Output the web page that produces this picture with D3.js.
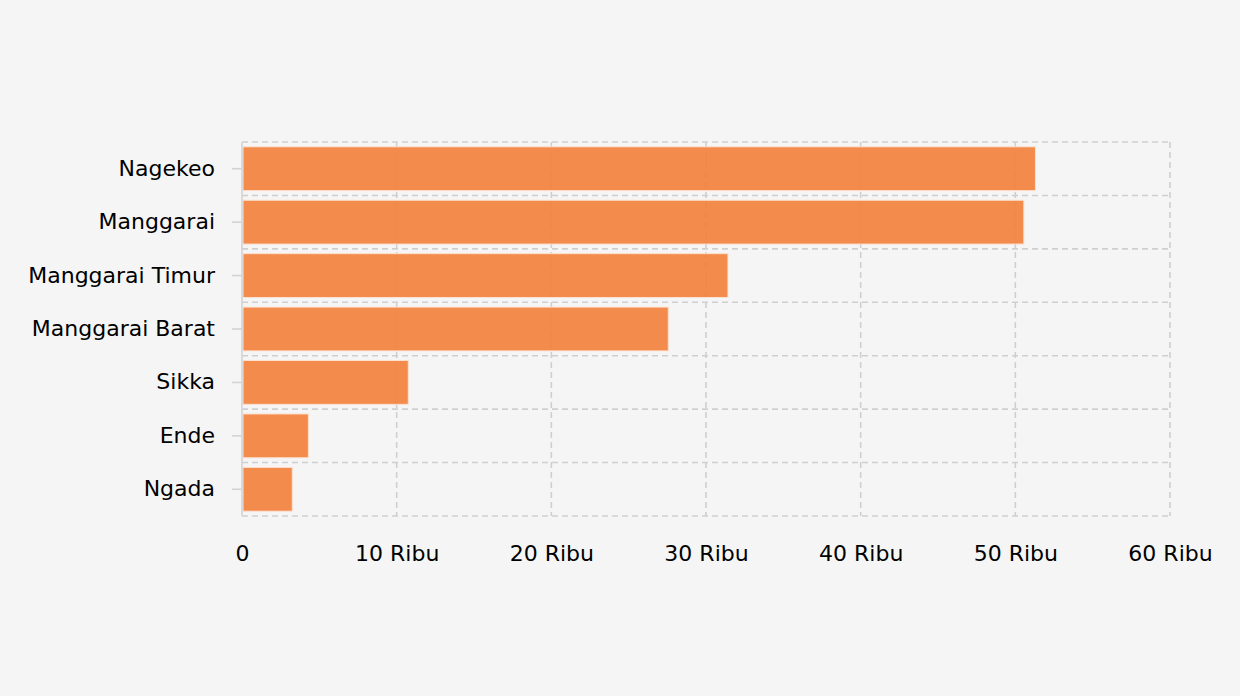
<!DOCTYPE html>
<html>
<head>
<meta charset="utf-8">
<script src="https://cdn.jsdelivr.net/npm/d3@7/dist/d3.min.js"></script>
<style>
  html, body { margin: 0; padding: 0; background: #f5f5f5; }
  svg { display: block; }
  text { font-family: "DejaVu Sans", Verdana, sans-serif; }
</style>
</head>
<body>
<svg id="chart" width="1240" height="696"></svg>
<script>
const categories = ["Nagekeo", "Manggarai", "Manggarai Timur", "Manggarai Barat", "Sikka", "Ende", "Ngada"];
const values = [51.3, 50.55, 31.42, 27.56, 10.75, 4.29, 3.25];
const xTicks = [0, 10, 20, 30, 40, 50, 60];
const xTickLabels = ["0", "10 Ribu", "20 Ribu", "30 Ribu", "40 Ribu", "50 Ribu", "60 Ribu"];

const svg = d3.select("#chart");
const W = 1240, H = 696;
const m = { left: 242, right: 70, top: 142, bottom: 180 };
const x = d3.scaleLinear().domain([0, 60]).range([m.left, W - m.right]);
const y = d3.scaleBand().domain(categories).range([m.top, H - m.bottom]).paddingInner(0.18).paddingOuter(0.09);

svg.append("rect").attr("width", W).attr("height", H).attr("fill", "#f5f5f5");

const grid = svg.append("g");
grid.selectAll("line.v").data(xTicks.filter(d => d > 0)).join("line")
  .attr("class", "v")
  .attr("x1", d => x(d)).attr("x2", d => x(d))
  .attr("y1", m.top).attr("y2", H - m.bottom)
  .attr("stroke", "#cfcfcf").attr("stroke-width", 1.6).attr("stroke-dasharray", "6,4");
const step = y.step();
const boundaries = d3.range(categories.length + 1).map(i => m.top + i * step);
grid.selectAll("line.h").data(boundaries).join("line")
  .attr("class", "h")
  .attr("x1", m.left).attr("x2", W - m.right)
  .attr("y1", d => d).attr("y2", d => d)
  .attr("stroke", "#cfcfcf").attr("stroke-width", 1.6).attr("stroke-dasharray", "6,4");

svg.append("g").selectAll("rect").data(categories).join("rect")
  .attr("x", x(0) + 1)
  .attr("y", d => y(d))
  .attr("width", (d, i) => x(values[i]) - x(0) - 1)
  .attr("height", y.bandwidth())
  .attr("fill", "#f37f3b").attr("fill-opacity", 0.9)
  .attr("stroke", "#fde0cf").attr("stroke-width", 1);

const yAxis = d3.axisLeft(y).tickSize(10).tickPadding(17);
const ya = svg.append("g").attr("transform", `translate(${m.left},0)`).call(yAxis);
ya.select(".domain").attr("stroke", "#d3d3d3").attr("stroke-width", 1.6)
  .attr("d", `M0,${m.top}V${H - m.bottom}`);
ya.selectAll(".tick line").attr("stroke", "#d3d3d3").attr("stroke-width", 1.6);
ya.selectAll(".tick text").attr("fill", "#000").style("font-size", "22px")
  .style("font-family", '"DejaVu Sans", Verdana, sans-serif');

const xAxis = d3.axisBottom(x).tickValues(xTicks).tickFormat((d, i) => xTickLabels[i]).tickSize(0).tickPadding(29);
const xa = svg.append("g").attr("transform", `translate(0,${H - m.bottom})`).call(xAxis);
xa.select(".domain").remove();
xa.selectAll(".tick text").attr("fill", "#000").style("font-size", "22px")
  .style("font-family", '"DejaVu Sans", Verdana, sans-serif');
</script>
</body>
</html>
